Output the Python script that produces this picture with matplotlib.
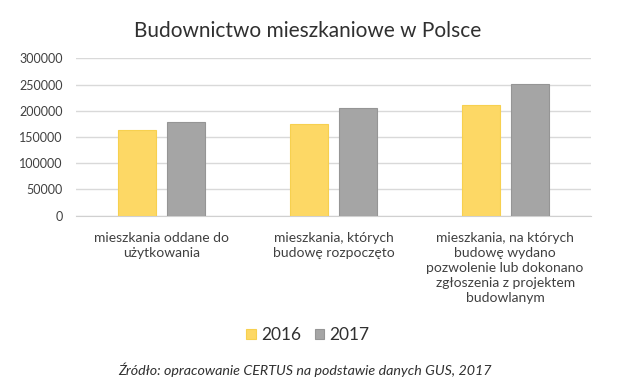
import matplotlib.pyplot as plt
import numpy as np

categories = [
    'mieszkania oddane do\nużytkowania',
    'mieszkania, których\nbudowę rozpoczęto',
    'mieszkania, na których\nbudowę wydano\npozwolenie lub dokonano\nzgłoszenia z projektem\nbudowlanym',
]
years = ['2016', '2017']
values_2016 = [163300, 173900, 211500]
values_2017 = [178300, 206000, 250300]
yticks = [0, 50000, 100000, 150000, 200000, 250000, 300000]

colors = ['#FDD865', '#A5A5A5']
edges = ['#F7D04F', '#959595']

plt.rcParams['font.family'] = ['Lato', 'DejaVu Sans']

fig = plt.figure(figsize=(6.2, 3.91), dpi=100)
ax = fig.add_axes([76 / 620, 1 - 215.7 / 391, 515 / 620, 157.4 / 391])

x = np.arange(len(categories))
w = 0.221
gap = 0.064
off = (w + gap) / 2
for i, (vals, lab) in enumerate([(values_2016, years[0]), (values_2017, years[1])]):
    ax.bar(x + (i * 2 - 1) * off, vals, width=w, color=colors[i],
           edgecolor=edges[i], linewidth=0.8, label=lab, zorder=3)

ax.set_xlim(-0.5, 2.5)
ax.set_ylim(0, 300000)
ax.set_yticks(yticks)
ax.set_yticklabels([str(t) for t in yticks], fontsize=9, color='#404040')
ax.yaxis.grid(True, color='#D9D9D9', linewidth=1, zorder=0)
ax.tick_params(axis='y', length=0, pad=9.5)
ax.tick_params(axis='x', length=0, pad=12)
ax.set_xticks(x)
ax.set_xticklabels(categories, fontsize=10, color='#404040', linespacing=1.3)
for s in ['top', 'right', 'left']:
    ax.spines[s].set_visible(False)
ax.spines['bottom'].set_color('#D0D0D0')

fig.text(308 / 620, 1 - 31 / 391, 'Budownictwo mieszkaniowe w Polsce',
         ha='center', va='center', fontsize=15, color='#303030')

fig.legend(loc='center', bbox_to_anchor=(308 / 620, 1 - 335 / 391), ncol=2,
           frameon=False, fontsize=12.5, handlelength=0.55, handleheight=0.55,
           handletextpad=0.3, columnspacing=0.8, labelcolor='#303030')

fig.text(305 / 620, 1 - 370 / 391, 'Źródło: opracowanie CERTUS na podstawie danych GUS, 2017',
         ha='center', va='center', fontsize=10.3, style='italic', color='#303030')

fig.savefig('out.png', dpi=100)
